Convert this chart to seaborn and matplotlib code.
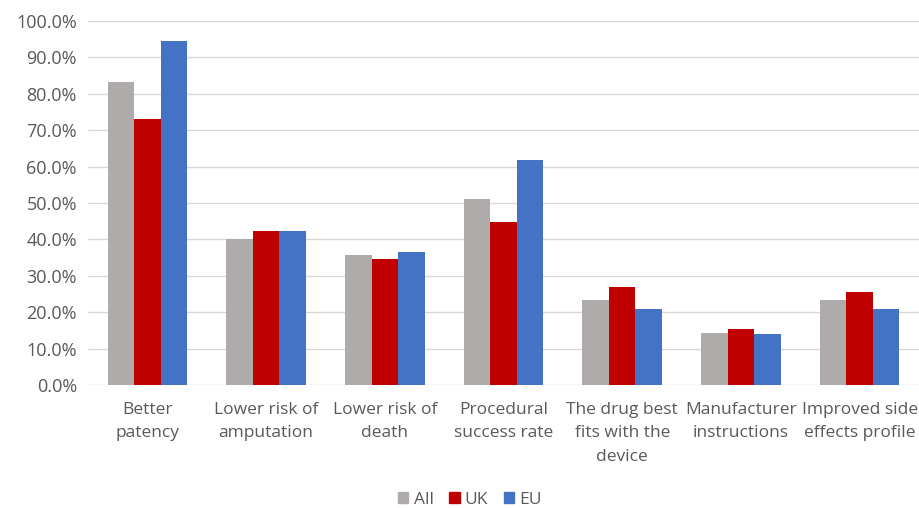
import pandas as pd
import matplotlib.pyplot as plt
import seaborn as sns
from matplotlib.ticker import PercentFormatter
from matplotlib.patches import Patch

categories = ['Better\npatency', 'Lower risk of\namputation', 'Lower risk of\ndeath',
              'Procedural\nsuccess rate', 'The drug best\nfits with the\ndevice',
              'Manufacturer\ninstructions', 'Improved side\neffects profile']
all_vals = [83.3, 40.1, 35.7, 51.1, 23.4, 14.2, 23.4]
uk_vals = [73.1, 42.3, 34.6, 44.9, 26.9, 15.3, 25.5]
eu_vals = [94.4, 42.3, 36.5, 61.9, 21.0, 14.0, 21.0]
series = ['All', 'UK', 'EU']
colors = ['#AFABAB', '#C00000', '#4472C4']

df = pd.DataFrame({
    'Reason': categories * 3,
    'Value': all_vals + uk_vals + eu_vals,
    'Group': [s for s in series for _ in categories],
})

sns.set_theme(style="white")
plt.rcParams['font.family'] = ['Open Sans', 'DejaVu Sans']

fig = plt.figure(figsize=(9.19, 5.08), dpi=100)
ax = fig.add_axes([88 / 919, 1 - 385 / 508, 1 - 88 / 919, (385 - 21) / 508])

sns.barplot(data=df, x='Reason', y='Value', hue='Group', palette=colors,
            saturation=1, width=0.67, ax=ax, linewidth=0, legend=False)

ax.set_ylim(0, 100)
ax.set_yticks(range(0, 101, 10))
ax.yaxis.set_major_formatter(PercentFormatter(decimals=1))
ax.grid(axis='y', color='#D9D9D9', linewidth=1)
ax.set_axisbelow(True)
for s in ax.spines.values():
    s.set_visible(False)
ax.set_xlabel('')
ax.set_ylabel('')
ax.tick_params(axis='both', length=0, labelsize=12.5, colors='#595959')
ax.tick_params(axis='x', pad=12)
ax.tick_params(axis='y', pad=8, labelsize=13)
ax.set_xlim(-0.5, len(categories) - 0.5)
for lbl in ax.get_xticklabels():
    lbl.set_linespacing(1.65)

handles = [Patch(color=c, label=s) for c, s in zip(colors, series)]
fig.legend(handles=handles, loc='center', bbox_to_anchor=(470 / 919, 1 - 500 / 508),
           ncol=3, frameon=False, fontsize=12.5, handlelength=0.6, handleheight=0.6,
           handletextpad=0.3, columnspacing=0.9, labelcolor='#595959')

fig.savefig('out.png', dpi=100)
